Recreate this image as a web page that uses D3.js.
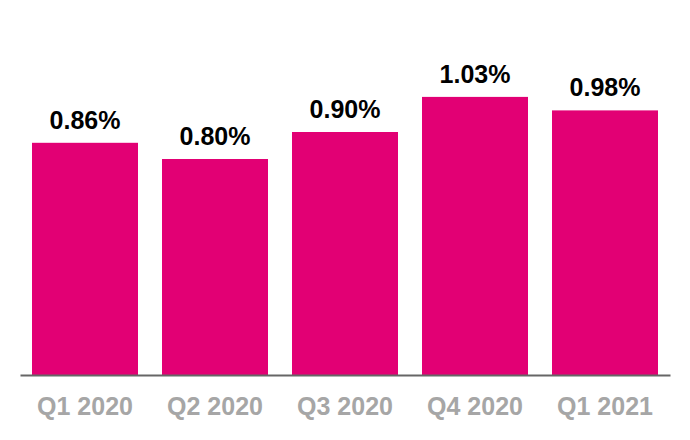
<!DOCTYPE html>
<html>
<head>
<meta charset="utf-8">
<script src="https://cdn.jsdelivr.net/npm/d3@7"></script>
<style>
  body { margin: 0; background: #fff; }
</style>
</head>
<body>
<div id="chart"></div>
<script>
// quarterly rate bar chart

const quarters = ["Q1 2020", "Q2 2020", "Q3 2020", "Q4 2020", "Q1 2021"];
const rates = [0.86, 0.80, 0.90, 1.03, 0.98];

const w = 690, h = 440;
const fontFamily = "Liberation Sans, Arial, sans-serif";
const magenta = "#E20074";

const svg = d3.select("#chart")
	.append("svg")
	.attr("width", w)
	.attr("height", h);

// scales
const x = d3.scaleBand()
	.domain(quarters)
	.range([20, 670])
	.paddingInner(0.1846)
	.paddingOuter(0.0923);

const y = d3.scaleLinear()
	.domain([0, 1])
	.range([375, 105]);

// bars
svg.append("g")
	.selectAll("rect")
	.data(rates)
	.join("rect")
		.attr("x", (d, i) => x(quarters[i]))
		.attr("y", d => y(d))
		.attr("width", x.bandwidth())
		.attr("height", d => y(0) - y(d))
		.attr("fill", magenta);

// value labels
svg.append("g")
	.selectAll("text")
	.data(rates)
	.join("text")
		.attr("x", (d, i) => x(quarters[i]) + x.bandwidth() / 2)
		.attr("y", d => y(d) - 14)
		.attr("text-anchor", "middle")
		.style("font-family", fontFamily)
		.style("font-weight", "bold")
		.style("font-size", "25px")
		.style("fill", "#000")
		.text(d => d.toFixed(2) + "%");

// x axis
const axisX = svg.append("g")
	.attr("transform", `translate(0,${y(0)})`)
	.call(d3.axisBottom(x).tickSize(0).tickPadding(22));

axisX.select(".domain")
	.attr("stroke", "#666")
	.attr("stroke-width", 2);

axisX.selectAll(".tick text")
	.style("font-family", fontFamily)
	.style("font-weight", "bold")
	.style("font-size", "25px")
	.style("fill", "#A6A6A6");
</script>
</body>
</html>
